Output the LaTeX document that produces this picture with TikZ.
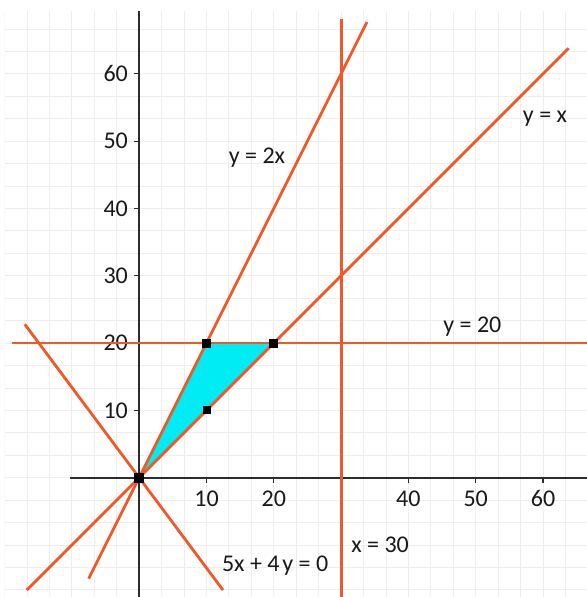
\documentclass[tikz,border=0pt]{standalone}
\usepackage{fontspec}
\setmainfont{Carlito}
\definecolor{lineor}{RGB}{240,88,40}
\definecolor{regcyan}{RGB}{0,236,245}
\definecolor{gridc}{RGB}{238,238,238}
\definecolor{axisc}{RGB}{45,45,45}
\definecolor{txtc}{RGB}{25,25,25}
\begin{document}
\begin{tikzpicture}[x=6.73bp,y=6.73bp,
  gridline/.style={draw=gridc,line width=0.9bp},
  axisline/.style={draw=axisc,line width=2.2bp},
  tickmark/.style={draw=axisc,line width=1.2bp},
  orline/.style={draw=lineor,line width=2.8bp},
  lbl/.style={text=txtc,inner sep=0pt,font=\fontsize{24bp}{28bp}\selectfont},
  ptmark/.style={fill=black,draw=none,minimum size=9bp,inner sep=0pt,rectangle}]
\useasboundingbox (-20.684,-17.727) rectangle (66.538,70.981);
% grid
\begin{scope}
  \clip (-20,-17.727) rectangle (66.538,69.3);
  \draw[gridline,step={10/3}] (-20,-20) grid (70,70);
\end{scope}
% feasible region
\coordinate (O) at (0,0);
\coordinate (A) at (10,20);
\coordinate (B) at (20,20);
\coordinate (C) at (10,10);
\fill[regcyan] (O) -- (A) -- (B) -- cycle;
% axes
\coordinate (xl) at (-10.3,0);
\coordinate (xr) at (66.6,0);
\coordinate (yb) at (0,-17.8);
\coordinate (yt) at (0,69.3);
\draw[axisline] (xl) -- (xr);
\draw[axisline] (yb) -- (yt);
% ticks and tick labels
\foreach \v in {10,20,30,40,50,60}{
  \draw[tickmark] (-0.75,\v) -- (0,\v);
  \node[lbl,anchor=east] (ylab\v) at (-1.66,\v) {\v};
}
\foreach \v in {10,20,30,40,50,60}{
  \draw[tickmark] (\v,0) -- (\v,-0.75);
}
\foreach \v in {10,20,40,50,60}{
  \node[lbl] (xlab\v) at (\v,-3.15) {\v};
}
% constraint lines
\coordinate (v1) at (30,68.2);
\coordinate (v2) at (30,-17.8);
\draw[orline] (v1) -- (v2);
\coordinate (h1) at (-18.9,20);
\coordinate (h2) at (66.6,20);
\draw[orline] (h1) -- (h2);
\coordinate (d1a) at (-7.5,-15);
\coordinate (d1b) at (33.85,67.7);
\draw[orline] (d1a) -- (d1b);
\coordinate (d2a) at (-16.7,-16.7);
\coordinate (d2b) at (63.8,63.8);
\draw[orline] (d2a) -- (d2b);
\coordinate (d3a) at (-17,22.8);
\coordinate (d3b) at (12.45,-16.7);
\draw[orline] (d3a) -- (d3b);
% points
\node[ptmark,minimum size=10bp] (pO) at (O) {};
\node[ptmark] (pA) at (A) {};
\node[ptmark] (pB) at (B) {};
\node[ptmark,minimum size=8bp] (pC) at (C) {};
% equation labels
\node[lbl] (l2x) at (17.5,47.6) {y = 2x};
\node[lbl] (lx) at (60.3,53.4) {y = x};
\node[lbl] (l20) at (49.5,22.4) {y = 20};
\node[lbl] (l30) at (35.8,-10.0) {x = 30};
\node[lbl] (l54) at (20.2,-13.0) {5x + 4\hspace{0.12em}y = 0};
\end{tikzpicture}
\end{document}
